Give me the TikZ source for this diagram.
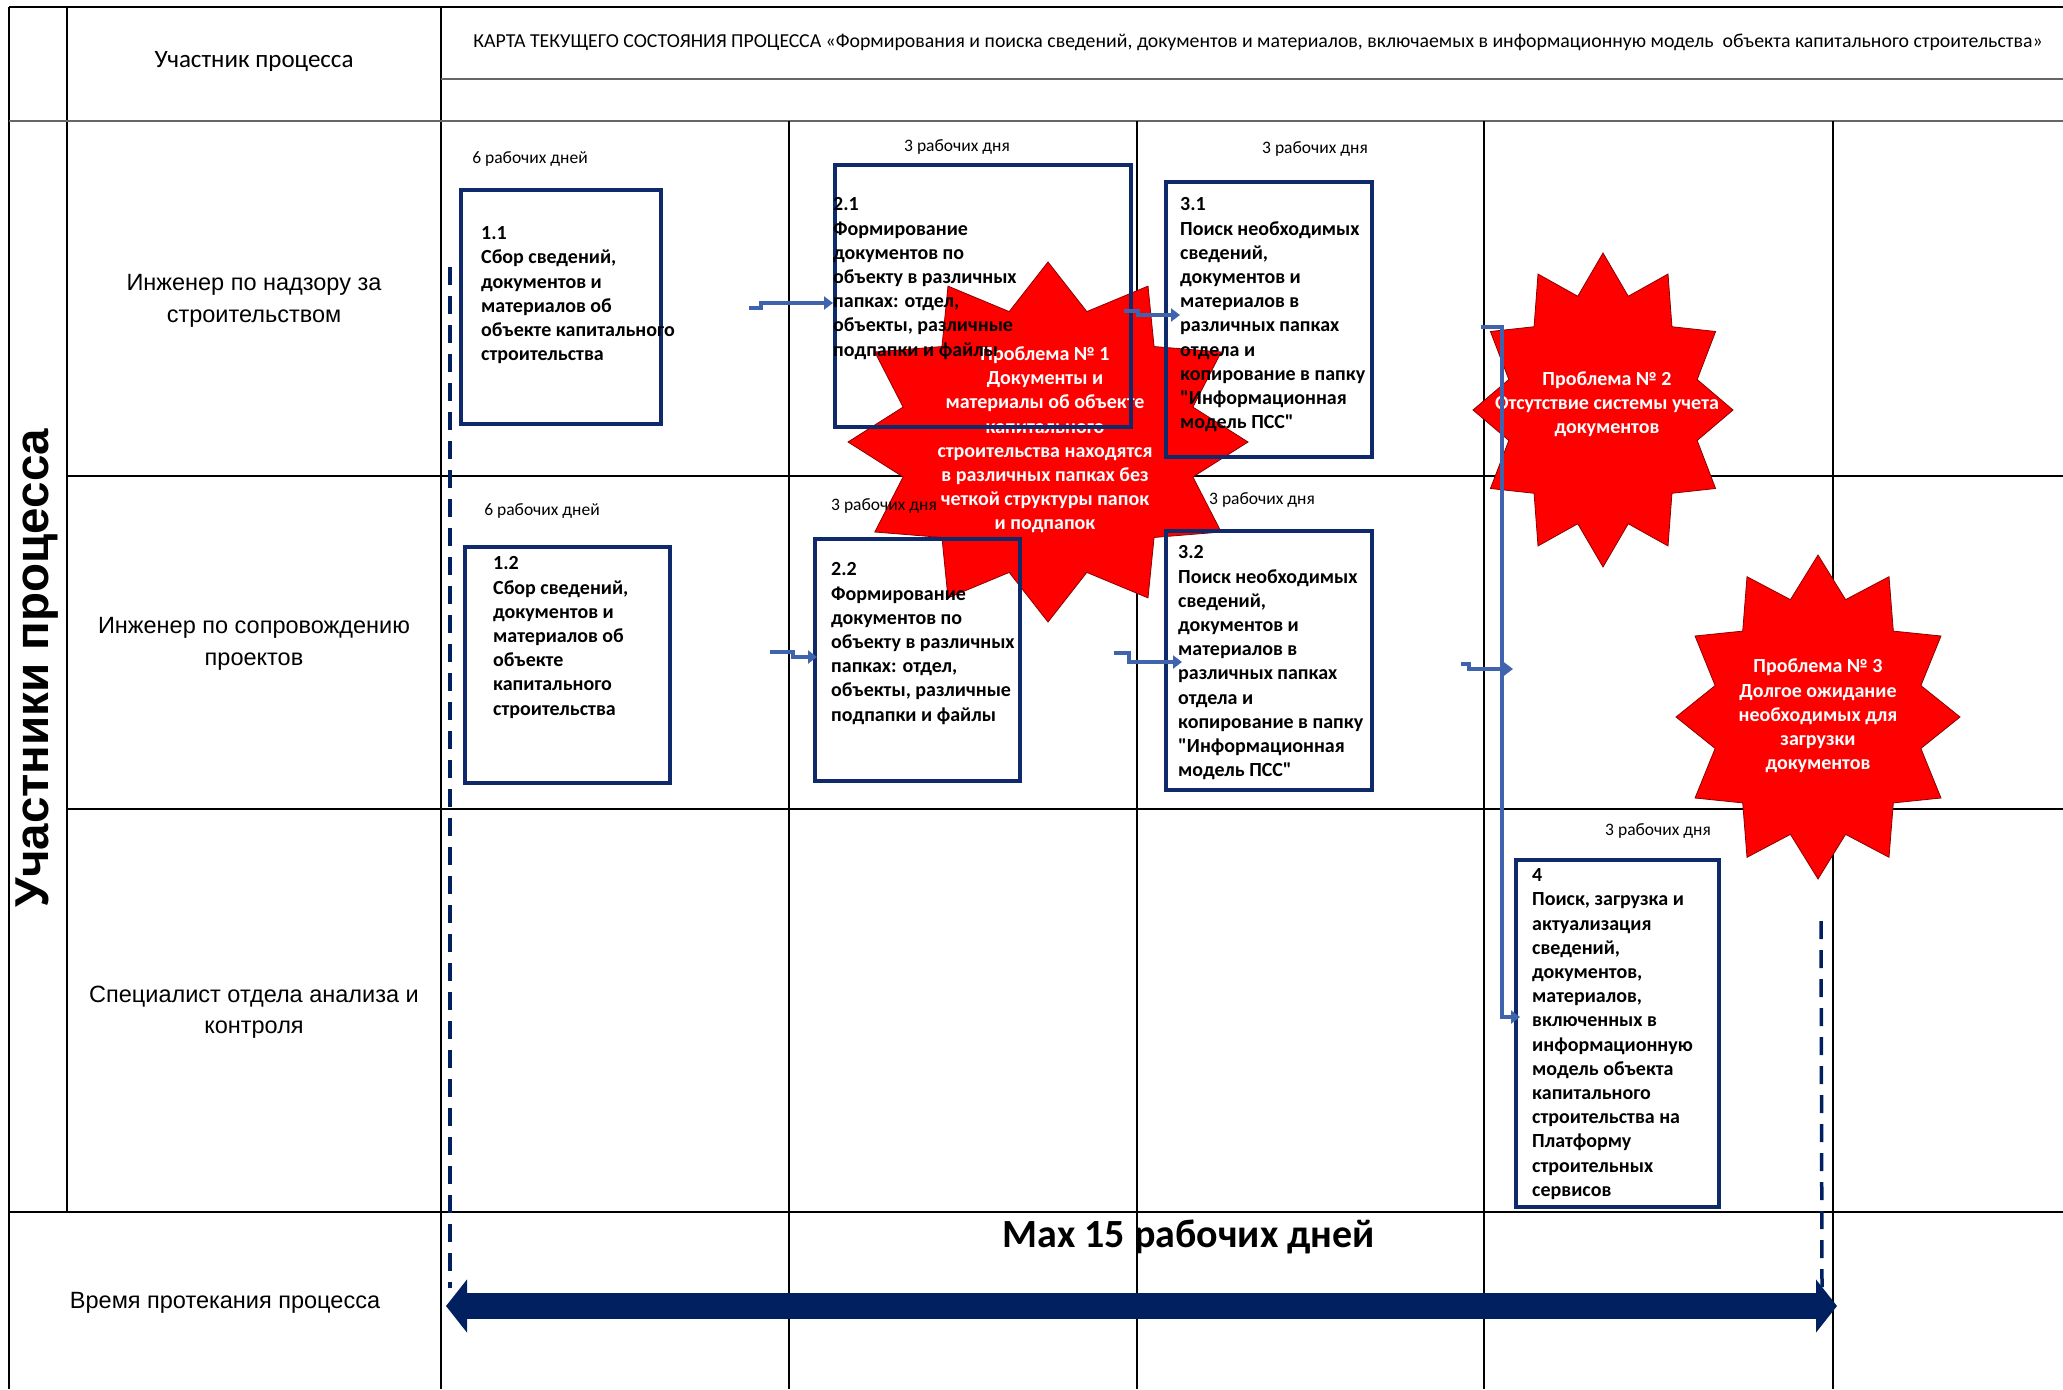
\documentclass[tikz,border=0pt]{standalone}
\usepackage{fontspec}
\setmainfont{Carlito}[Ligatures=TeXOff]
\newfontfamily\arialf{Liberation Sans}
\usetikzlibrary{arrows.meta}
\definecolor{navy}{HTML}{0F2A6B}
\definecolor{conblue}{HTML}{3F63AD}
\definecolor{bignavy}{HTML}{002060}
\definecolor{starred}{HTML}{FF0000}
\newcommand\mkstar[4]{%
  \filldraw[starsty] (#1,#2-#4)
  \foreach \k in {1,...,23}{ -- ({#1+(1-0.25*mod(\k,2))*#3*cos(90+15*\k)},{#2-(1-0.25*mod(\k,2))*#4*sin(90+15*\k)}) } -- cycle;}
\begin{document}
\begin{tikzpicture}[x=1pt,y=-1pt,
  grid/.style={line width=1.3pt,black},
  hgrid/.style={line width=2.6pt,black!60},
  procbox/.style={draw=navy,line width=4pt,inner sep=0pt},
  boxtext/.style={anchor=north west,align=left,inner sep=0pt,font=\fontsize{20}{24.2}\selectfont\bfseries},
  dur/.style={inner sep=0pt,font=\fontsize{17.5}{20}\selectfont},
  startext/.style={align=center,inner sep=0pt,text=white,font=\fontsize{20}{24.2}\selectfont\bfseries},
  starsty/.style={fill=starred,draw=red!55!black,line width=0.8pt},
  role/.style={align=center,inner sep=0pt,font=\arialf\fontsize{23.5}{31.5}\selectfont},
  conn/.style={draw=conblue,line width=3.5pt,-{Triangle[length=9pt,width=13pt]}},
  dashline/.style={draw=bignavy,line width=3.5pt,dash pattern=on 18pt off 11pt}
]
\useasboundingbox (0,0) rectangle (2063,1389);
\fill[white] (0,0) rectangle (2063,1389);

% ---------- grid ----------
\draw[grid,line width=2pt] (9,7) -- (2063,7);
\draw[grid] (9,7) -- (9,1389);
\draw[grid] (67,7) -- (67,1212);
\draw[grid] (441,7) -- (441,1389);
\draw[hgrid] (441,79) -- (2063,79);
\draw[hgrid] (9,121) -- (2063,121);
\draw[grid] (67,476) -- (2063,476);
\draw[grid] (67,809) -- (2063,809);
\draw[grid,line width=2pt] (9,1212) -- (2063,1212);
\foreach \xx in {789,1137,1484,1833}{\draw[grid] (\xx,121) -- (\xx,1389);}

% ---------- headers ----------
\node[inner sep=0pt,font=\fontsize{25}{29}\selectfont] (h1) at (254,62) {Участник процесса};
\node[inner sep=0pt,font=\fontsize{19.8}{23}\selectfont] (h2) at (1258,42) {КАРТА ТЕКУЩЕГО СОСТОЯНИЯ ПРОЦЕССА «Формирования и поиска сведений, документов и материалов, включаемых в информационную модель~ объекта капитального строительства»};
\node[rotate=90,inner sep=0pt,font=\arialf\bfseries\fontsize{47.5}{52}\selectfont] (vlab) at (37,668) {Участники процесса};
\node[role] (r1) at (254,301) {Инженер по надзору за\\строительством};
\node[role] (r2) at (254,644) {Инженер по сопровождению\\проектов};
\node[role] (r3) at (254,1012) {Специалист отдела анализа и\\контроля};
\node[role] (r4) at (225,1303) {Время протекания процесса};

% ---------- stars ----------
\mkstar{1048}{442}{200}{180}
\mkstar{1603}{410}{130}{157}
\mkstar{1818}{717}{142}{162}
\node[startext] (p1) at (1045,440) {Проблема № 1\\Документы и\\материалы об объекте\\капитального\\строительства находятся\\в различных папках без\\четкой структуры папок\\и подпапок};
\node[startext] (p2) at (1607,404) {Проблема № 2\\Отсутствие системы учета\\документов};
\node[startext] (p3) at (1818,716) {Проблема № 3\\Долгое ожидание\\необходимых для\\загрузки\\документов};

% ---------- process boxes ----------
\node[procbox,minimum width=200pt,minimum height=234pt] (b11) at (561,307) {};
\node[procbox,minimum width=296pt,minimum height=262pt] (b21) at (983,296) {};
\node[procbox,minimum width=206pt,minimum height=275pt] (b31) at (1269,319.5) {};
\node[procbox,minimum width=205pt,minimum height=236pt] (b12) at (567.5,665) {};
\node[procbox,minimum width=205pt,minimum height=242pt] (b22) at (917.5,660) {};
\node[procbox,minimum width=206pt,minimum height=259pt] (b32) at (1269,660.5) {};
\node[procbox,minimum width=203pt,minimum height=347pt] (b4) at (1617.5,1033.5) {};

\node[boxtext] (t11) at (481,226.5) {1.1\\Сбор сведений,\\документов и\\материалов об\\объекте капитального\\строительства};
\node[boxtext] (t21) at (833,197.5) {2.1\\Формирование\\документов по\\объекту в различных\\папках: отдел,\\объекты, различные\\подпапки и файлы};
\node[boxtext] (t31) at (1180,197.5) {3.1\\Поиск необходимых\\сведений,\\документов и\\материалов в\\различных папках\\отдела и\\копирование в папку\\"Информационная\\модель ПСС"};
\node[boxtext] (t12) at (493,556.5) {1.2\\Сбор сведений,\\документов и\\материалов об\\объекте\\капитального\\строительства};
\node[boxtext] (t22) at (831,562.5) {2.2\\Формирование\\документов по\\объекту в различных\\папках: отдел,\\объекты, различные\\подпапки и файлы};
\node[boxtext] (t32) at (1178,545.5) {3.2\\Поиск необходимых\\сведений,\\документов и\\материалов в\\различных папках\\отдела и\\копирование в папку\\"Информационная\\модель ПСС"};
\node[boxtext] (t4) at (1532,868.5) {4\\Поиск, загрузка и\\актуализация\\сведений,\\документов,\\материалов,\\включенных в\\информационную\\модель объекта\\капитального\\строительства на\\Платформу\\строительных\\сервисов};

% ---------- durations ----------
\node[dur] (d11) at (530,159) {6 рабочих дней};
\node[dur] (d21) at (957,147) {3 рабочих дня};
\node[dur] (d31) at (1315,149) {3 рабочих дня};
\node[dur] (d12) at (542,511) {6 рабочих дней};
\node[dur] (d22) at (884,506) {3 рабочих дня};
\node[dur] (d32) at (1262,500) {3 рабочих дня};
\node[dur] (d4) at (1658,831) {3 рабочих дня};

% ---------- connectors ----------
\coordinate (c1a) at (749,308); \coordinate (c1b) at (761,303);
\draw[conn] (c1a) -- (c1a -| c1b) -- (c1b) -- (c1b -| b21.west);
\coordinate (c2a) at (1124,311); \coordinate (c2b) at (1138,315);
\draw[conn] (c2a) -- (c2a -| c2b) -- (c2b) -- ([xshift=16pt]c2b -| b31.west);
\coordinate (c3a) at (770,652); \coordinate (c3b) at (793,657);
\draw[conn] (c3a) -- (c3a -| c3b) -- (c3b) -- ([xshift=4pt]c3b -| b22.west);
\coordinate (c4a) at (1114,653); \coordinate (c4b) at (1129,662);
\draw[conn] (c4a) -- (c4a -| c4b) -- (c4b) -- ([xshift=18pt]c4b -| b32.west);
\coordinate (c5a) at (1461,664); \coordinate (c5b) at (1469,669); \coordinate (c5e) at (1513,669);
\draw[conn] (c5a) -- (c5a -| c5b) -- (c5b) -- (c5e);
\coordinate (c6a) at (1481,327); \coordinate (c6b) at (1502,1017);
\draw[conn] (c6a) -| (c6b) -- ([xshift=6pt]c6b -| b4.west);

% ---------- time axis ----------
\coordinate (dl1) at (450,267); \coordinate (dl2) at (450,1288);
\coordinate (dr1) at (1821,921); \coordinate (dr2) at (1822,1288);
\draw[dashline] (dl1) -- (dl2);
\draw[dashline] (dr1) -- (dr2);
\coordinate (al) at (446,1306); \coordinate (ar) at (1837,1306);
\draw[bignavy,line width=26pt,{Triangle[length=21pt,width=52pt]}-{Triangle[length=21pt,width=52pt]}] (al) -- (ar);
\node[inner sep=0pt,font=\fontsize{40}{46}\selectfont\bfseries] (mx) at (1189,1237) {Max 15 рабочих дней};
\end{tikzpicture}
\end{document}
